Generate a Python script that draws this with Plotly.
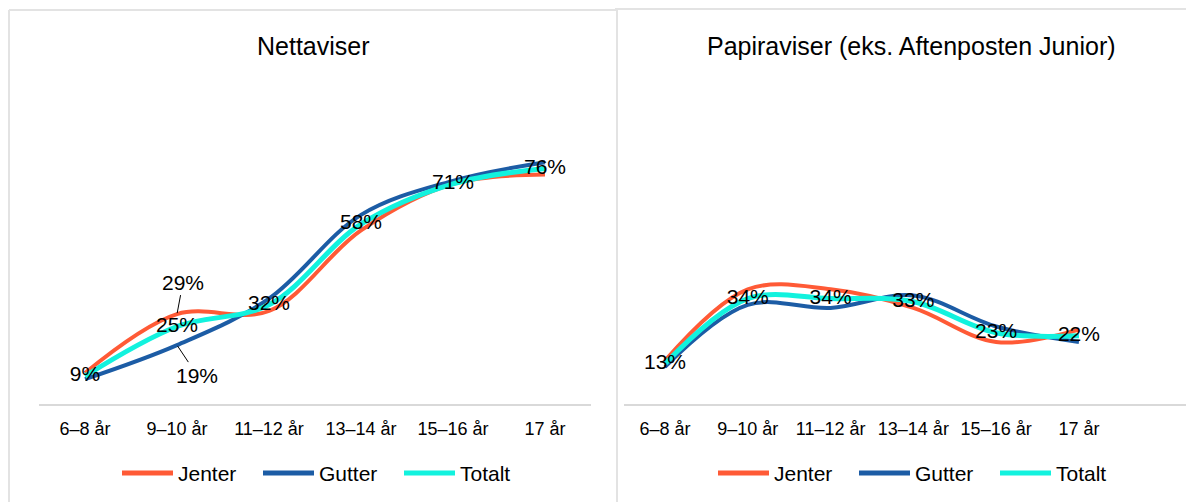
import plotly.graph_objects as go

categories = ["6–8 år", "9–10 år", "11–12 år", "13–14 år", "15–16 år", "17 år"]

net_jenter = [10, 29, 30, 56, 71, 74]
net_gutter = [8, 19, 34, 61, 72, 78]
net_totalt = [9, 25, 32, 58, 71, 76]

pap_jenter = [14, 37, 37, 31, 20, 24]
pap_gutter = [12, 32, 31, 35, 25, 20]
pap_totalt = [13, 34, 34, 33, 23, 22]

series_names = ["Jenter", "Gutter", "Totalt"]
colors = {"Jenter": "#FF5A36", "Gutter": "#1C5CA5", "Totalt": "#12F2DE"}
widths = {"Jenter": 4, "Gutter": 4, "Totalt": 5}
titles = ["Nettaviser", "Papiraviser (eks. Aftenposten Junior)"]

FONT = "Liberation Sans, Arial, sans-serif"
# page body has an 8px margin: figure pixel = screen pixel - 8
OFF = 8
W, H = 1194 - OFF, 502 - OFF


def px(x):
    return (x - OFF) / W


def py(y):
    return 1 - (y - OFF) / H


fig = go.Figure()

panels = [
    ("x", "y", net_jenter, net_gutter, net_totalt),
    ("x2", "y2", pap_jenter, pap_gutter, pap_totalt),
]

for xa, ya, jen, gut, tot in panels:
    for name, vals in zip(series_names, [jen, gut, tot]):
        is_tot = name == "Totalt"
        fig.add_trace(go.Scatter(
            x=categories, y=vals, name=name,
            xaxis=xa, yaxis=ya, showlegend=False,
            mode="lines+text" if is_tot else "lines",
            line=dict(color=colors[name], width=widths[name], shape="spline", smoothing=1.0),
            text=[f"{v}%" for v in vals] if is_tot else None,
            textposition="middle center",
            textfont=dict(family=FONT, size=21, color="#000000"),
            hoverinfo="skip",
        ))

# leader-line labels for Jenter/Gutter at 9–10 år (left panel)
fig.add_annotation(x=categories[1], y=net_jenter[1], xref="x", yref="y",
                   text=f"{net_jenter[1]}%", showarrow=True, arrowhead=0,
                   arrowwidth=1, arrowcolor="#000000", ax=6, ay=-32, standoff=1,
                   font=dict(family=FONT, size=21, color="#000000"))
fig.add_annotation(x=categories[1], y=net_gutter[1], xref="x", yref="y",
                   text=f"{net_gutter[1]}%", showarrow=True, arrowhead=0,
                   arrowwidth=1, arrowcolor="#000000", ax=20, ay=30, standoff=1,
                   font=dict(family=FONT, size=21, color="#000000"))

ydom = [py(404), py(94)]
axis_common = dict(
    type="category", showline=True, linecolor="#D9D9D9", linewidth=2,
    showgrid=False, zeroline=False, ticks="outside", ticklen=7,
    tickcolor="rgba(0,0,0,0)",
    tickfont=dict(family=FONT, size=18, color="#000000"),
    fixedrange=True,
)
yaxis_common = dict(range=[0, 100], visible=False, showgrid=False,
                    zeroline=False, fixedrange=True, domain=ydom)

fig.update_layout(
    width=W, height=H,
    margin=dict(l=0, r=0, t=0, b=0),
    paper_bgcolor="#FFFFFF", plot_bgcolor="#FFFFFF",
    font=dict(family=FONT, color="#000000"),
    xaxis=dict(axis_common, domain=[px(39), px(591)], range=[-0.5, 5.5], anchor="y"),
    yaxis=dict(yaxis_common, anchor="x"),
    xaxis2=dict(axis_common, domain=[px(623.6), 1.0], range=[-0.5, 6.39], anchor="y2"),
    yaxis2=dict(yaxis_common, anchor="x2"),
    showlegend=False,
)

# panel titles
fig.add_annotation(text=titles[0], x=px(313), y=py(46), xref="paper", yref="paper",
                   showarrow=False, xanchor="center", yanchor="middle",
                   font=dict(family=FONT, size=25, color="#000000"))
fig.add_annotation(text=titles[1], x=px(911), y=py(46), xref="paper", yref="paper",
                   showarrow=False, xanchor="center", yanchor="middle",
                   font=dict(family=FONT, size=25, color="#000000"))

# legends (one per panel)
legend_starts = [122, 718]
for start in legend_starts:
    for i, name in enumerate(series_names):
        x0 = start + i * 141
        fig.add_shape(type="line", xref="paper", yref="paper",
                      x0=px(x0), x1=px(x0 + 51), y0=py(473), y1=py(473),
                      line=dict(color=colors[name], width=5))
        fig.add_annotation(text=name, x=px(x0 + 54), y=py(473), xref="paper", yref="paper",
                           showarrow=False, xanchor="left", yanchor="middle",
                           font=dict(family=FONT, size=21, color="#000000"))

# panel borders
border = dict(type="line", xref="paper", yref="paper",
              line=dict(color="#E3E3E3", width=2), layer="below")
fig.add_shape(border, x0=px(9), x1=px(9), y0=0, y1=py(10))
fig.add_shape(border, x0=px(9), x1=px(617), y0=py(10), y1=py(10))
fig.add_shape(border, x0=px(617), x1=px(617), y0=0, y1=py(9))
fig.add_shape(border, x0=px(615), x1=1.0, y0=py(9), y1=py(9))

fig.write_html("out.html")
